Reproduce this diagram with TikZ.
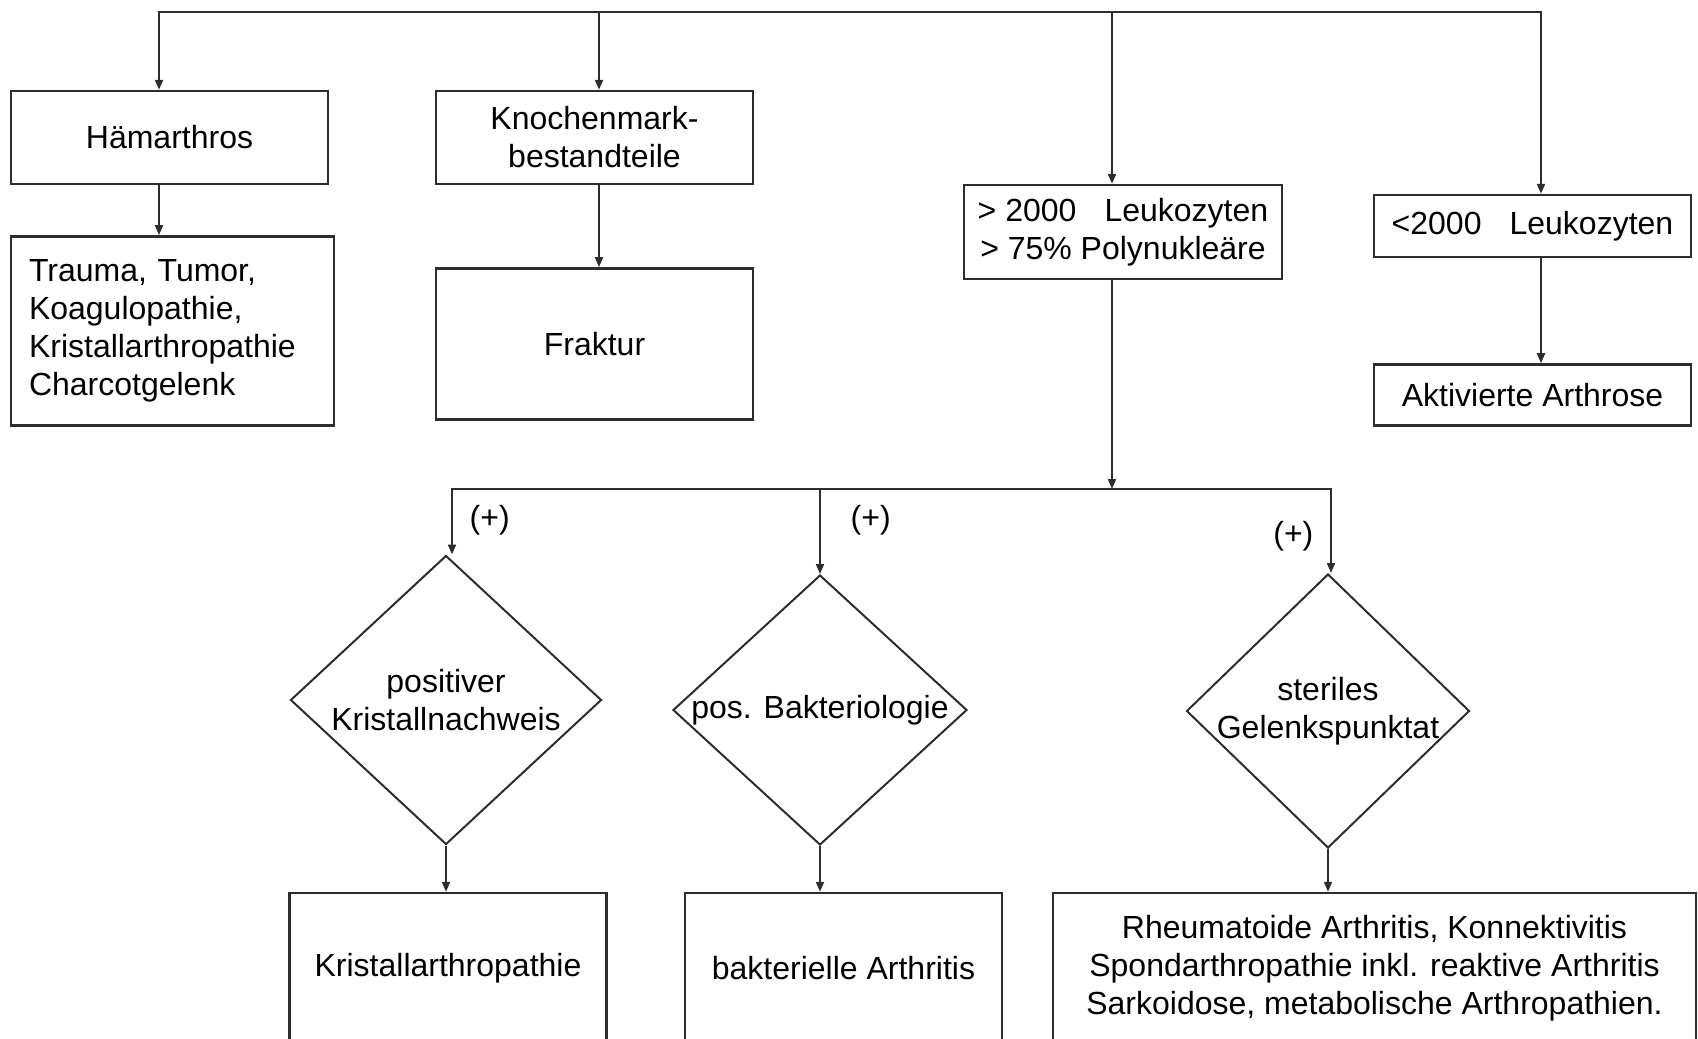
\documentclass[tikz,border=0pt]{standalone}
\usepackage{fontspec}
\setmainfont{Liberation Sans}
\usetikzlibrary{positioning}
\usetikzlibrary{arrows.meta}
\usetikzlibrary{shapes.geometric}
\definecolor{linegray}{RGB}{45,45,45}

\begin{document}
\begin{tikzpicture}[x=0.5pt, y=-0.5pt, font=\fontsize{16}{19}\selectfont,
    >={Triangle[length=5pt,width=4pt]},
    box/.style={draw=linegray, line width=1.2pt, align=center, inner sep=0pt, minimum width=158.5pt},
    decision/.style={diamond, draw=linegray, line width=1pt, align=center, inner sep=-4pt},
    link/.style={->, draw=linegray, line width=1pt}]
        \useasboundingbox (0,0) rectangle (1698,1039);
        % nodes %
        \node[box, minimum height=46.5pt] (haem) at (169.5,137.5) {Hämarthros};
        \node[box, below=25pt of haem.south west, anchor=north west, minimum width=161.5pt, minimum height=94.5pt, align=left, text width=143.5pt, inner xsep=9pt] (causes) {Trauma, Tumor,\\Koagulopathie,\\Kristallarthropathie\\Charcotgelenk};
        \node[box, minimum height=46.5pt] (mark) at (594.5,137.5) {Knochenmark-\\bestandteile};
        \node[box, below=41pt of mark, minimum height=75.5pt] (fraktur) {Fraktur};
        \node[box, minimum width=159pt, minimum height=47pt] (leuk) at (1123,232) {> 2000\hspace{0.6em} Leukozyten\\> 75\% Polynukleäre};
        \node[box, minimum height=31pt] (lowleuk) at (1532.5,226) {<2000\hspace{0.6em} Leukozyten};
        \node[box, below=52.5pt of lowleuk, minimum height=30.5pt] (arthrose) {Aktivierte Arthrose};
        \node[decision, minimum width=155.5pt, minimum height=144.5pt] (kristnach) at (446,700) {positiver\\Kristallnachweis};
        \node[decision, minimum width=147pt, minimum height=135pt] (bakt) at (820,710) {pos. Bakteriologie};
        \node[decision, minimum width=141.5pt, minimum height=137pt] (steril) at (1328,711) {steriles\\Gelenkspunktat};
        \node[box, minimum height=75pt] (kristall) at (448,968) {Kristallarthropathie};
        \node[box, minimum height=75pt] (arthritis) at (843.5,968) {bakterielle Arthritis};
        \node[box, minimum width=321.5pt, minimum height=75pt] (rheuma) at (1374.5,968) {Rheumatoide Arthritis, Konnektivitis\\Spondarthropathie inkl. reaktive Arthritis\\Sarkoidose, metabolische Arthropathien.};
        % junctions %
        \coordinate (j1) at (159,12);
        \coordinate (j2) at (599,12);
        \coordinate (j3) at (1112,12);
        \coordinate (j4) at (1541,12);
        \coordinate (k) at (1112,489);
        \coordinate (b1) at (452,489);
        \coordinate (b3) at (1331,489);
        % edges %
        \draw[link, <->] (j1 |- haem.north) -- (j1) -- (j4) -- (j4 |- lowleuk.north);
        \draw[link] (j2) -- (j2 |- mark.north);
        \draw[link] (j3) -- (j3 |- leuk.north);
        \draw[link] (haem.south -| j1) -- (causes.north -| j1);
        \draw[link] (mark.south -| j2) -- (fraktur.north -| j2);
        \draw[link] (lowleuk.south -| j4) -- (arthrose.north -| j4);
        \draw[link] (leuk.south -| k) -- (k);
        \draw[link, <->] (b1 |- kristnach.north) -- node[right=5pt, pos=0.52] {(+)} (b1) -- (b3) -- node[left=5pt, pos=0.56] {(+)} (b3 |- steril.north);
        \draw[link] (bakt.north |- k) -- node[right=11.5pt, pos=0.37] {(+)} (bakt.north);
        \draw[link] (kristnach.south) -- (kristall.north -| kristnach.south);
        \draw[link] (bakt.south) -- (arthritis.north -| bakt.south);
        \draw[link] (steril.south) -- (rheuma.north -| steril.south);
      \end{tikzpicture}
\end{document}
